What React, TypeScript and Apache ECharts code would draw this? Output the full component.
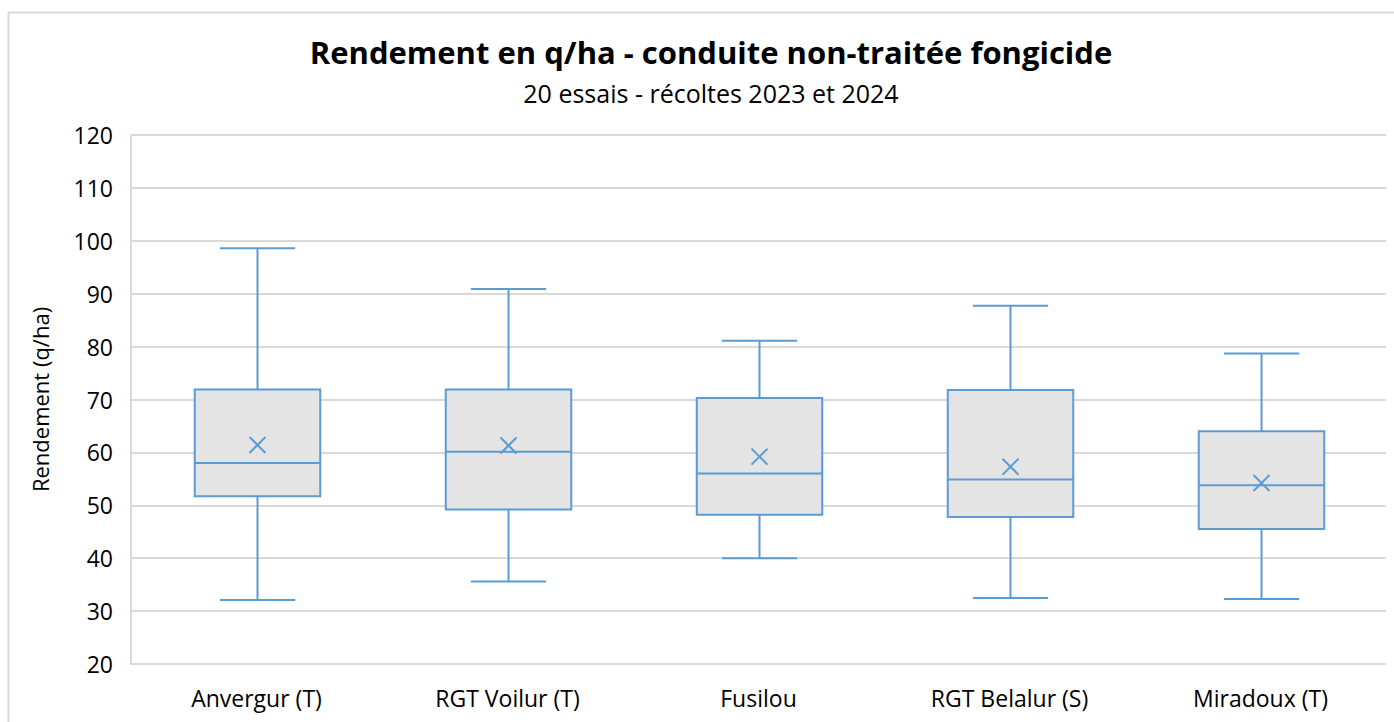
import React, { useEffect, useRef } from "react";
import * as echarts from "echarts";

const categories = ["Anvergur (T)", "RGT Voilur (T)", "Fusilou", "RGT Belalur (S)", "Miradoux (T)"];
const minValues = [32.1, 35.6, 40.0, 32.5, 32.3];
const q1Values = [51.7, 49.2, 48.2, 47.8, 45.5];
const medianValues = [58.0, 60.1, 56.0, 54.9, 53.8];
const q3Values = [71.9, 71.9, 70.3, 71.8, 64.0];
const maxValues = [98.6, 90.9, 81.1, 87.7, 78.7];
const meanValues = [61.4, 61.3, 59.2, 57.3, 54.2];

const titleText = "Rendement en q/ha - conduite non-traitée fongicide";
const subtitleText = "20 essais - récoltes 2023 et 2024";
const yAxisName = "Rendement (q/ha)";

const BLUE = "#5B9BD5";
const FONT = "'Open Sans', 'Noto Sans', sans-serif";

export default function App() {
  const ref = useRef<HTMLDivElement>(null);
  useEffect(() => {
    if (!ref.current) return;
    const chart = echarts.init(ref.current, null, { renderer: "svg" });
    const data = categories.map((_, i) => [
      i,
      minValues[i],
      q1Values[i],
      medianValues[i],
      q3Values[i],
      maxValues[i],
      meanValues[i],
    ]);
    const renderItem = (params: any, api: any) => {
      const idx = api.value(0);
      const pMin = api.coord([idx, api.value(1)]);
      const pQ1 = api.coord([idx, api.value(2)]);
      const pMed = api.coord([idx, api.value(3)]);
      const pQ3 = api.coord([idx, api.value(4)]);
      const pMax = api.coord([idx, api.value(5)]);
      const pMean = api.coord([idx, api.value(6)]);
      const band = api.size([1, 0])[0];
      const bw = band * 0.5;
      const cw = band * 0.15;
      const cx = Math.round(pMed[0]) + 0.5;
      const lineStyle = { stroke: BLUE, lineWidth: 2, fill: null };
      const m = 8;
      return {
        type: "group",
        children: [
          { type: "line", shape: { x1: cx, y1: pMax[1], x2: cx, y2: pQ3[1] }, style: lineStyle },
          { type: "line", shape: { x1: cx, y1: pQ1[1], x2: cx, y2: pMin[1] }, style: lineStyle },
          { type: "line", shape: { x1: cx - cw, y1: pMax[1], x2: cx + cw, y2: pMax[1] }, style: lineStyle },
          { type: "line", shape: { x1: cx - cw, y1: pMin[1], x2: cx + cw, y2: pMin[1] }, style: lineStyle },
          {
            type: "rect",
            shape: { x: cx - bw / 2, y: pQ3[1], width: bw, height: pQ1[1] - pQ3[1] },
            style: { fill: "#E4E4E4", stroke: BLUE, lineWidth: 2 },
          },
          { type: "line", shape: { x1: cx - bw / 2, y1: pMed[1], x2: cx + bw / 2, y2: pMed[1] }, style: lineStyle },
          { type: "line", shape: { x1: cx - m, y1: pMean[1] - m, x2: cx + m, y2: pMean[1] + m }, style: lineStyle },
          { type: "line", shape: { x1: cx - m, y1: pMean[1] + m, x2: cx + m, y2: pMean[1] - m }, style: lineStyle },
        ],
      };
    };
    chart.setOption({
      animation: false,
      backgroundColor: "#fff",
      textStyle: { fontFamily: FONT },
      title: {
        text: titleText,
        subtext: subtitleText,
        left: 706,
        textAlign: "center",
        top: 29,
        itemGap: 9,
        textStyle: { fontFamily: FONT, fontSize: 31, lineHeight: 36, fontWeight: "bold", color: "#000" },
        subtextStyle: { fontFamily: FONT, fontSize: 25, lineHeight: 28, color: "#000" },
      },
      graphic: [
        {
          type: "rect",
          shape: { x: 8.5, y: 12.5, width: 1400, height: 720 },
          style: { fill: null, stroke: "#D9D9D9", lineWidth: 2 },
          silent: true,
        },
      ],
      grid: { left: 131, right: 8, top: 135, bottom: 58, containLabel: false },
      xAxis: {
        type: "category",
        data: categories,
        axisLine: { show: false },
        axisTick: { show: false },
        axisLabel: { fontFamily: FONT, fontSize: 23, color: "#000", margin: 22 },
        splitLine: { show: false },
      },
      yAxis: {
        type: "value",
        min: 20,
        max: 120,
        interval: 10,
        name: yAxisName,
        nameLocation: "middle",
        nameGap: 80,
        nameRotate: 90,
        nameTextStyle: { fontFamily: FONT, fontSize: 22, color: "#000" },
        axisLine: { show: true, lineStyle: { color: "#D9D9D9", width: 2 } },
        axisTick: { show: false },
        axisLabel: { fontFamily: FONT, fontSize: 23, color: "#000", margin: 18 },
        splitLine: { lineStyle: { color: "#D9D9D9", width: 2 } },
      },
      series: [
        {
          type: "custom",
          renderItem,
          data,
          encode: { x: 0, y: [1, 2, 3, 4, 5, 6] },
          clip: false,
        },
      ],
    });
    return () => chart.dispose();
  }, []);
  return (
    <div
      ref={ref}
      style={{ position: "absolute", left: 0, top: 0, width: 1394, height: 722 }}
    />
  );
}
